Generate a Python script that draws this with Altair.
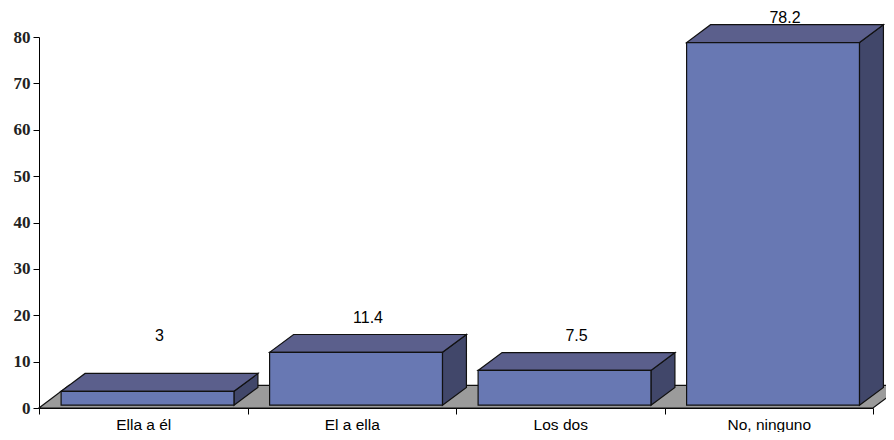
import altair as alt
import pandas as pd

# ---- data ----
categories = ["Ella a él", "El a ella", "Los dos", "No, ninguno"]
values = [3, 11.4, 7.5, 78.2]
label_texts = ["3", "11.4", "7.5", "78.2"]
y_ticks = [0, 10, 20, 30, 40, 50, 60, 70, 80]

# ---- 3-D look (data units) ----
X0, X1 = 0.106, 0.935      # front face within a category slot
BASE = 0.6                 # front face bottom
DX, DY = 0.115, 3.85       # bar depth
FDX, FDY = 0.144, 4.9      # floor depth

front, side, top = [], [], []
for i, (c, v) in enumerate(zip(categories, values)):
    x0, x1 = i + X0, i + X1
    b, t = BASE, BASE + v
    front.append({"bar": c, "x": x0, "x2": x1, "y": b, "y2": t})
    side += [{"bar": c, "x": x1, "y": b, "y2": t},
             {"bar": c, "x": x1 + DX, "y": b + DY, "y2": t + DY}]
    top += [{"bar": c, "x": x0, "y": t, "y2": t},
            {"bar": c, "x": x0 + DX, "y": t, "y2": t + DY},
            {"bar": c, "x": x1, "y": t, "y2": t + DY},
            {"bar": c, "x": x1 + DX, "y": t + DY, "y2": t + DY}]
n = len(categories)
floor = [{"x": 0, "y": 0, "y2": 0},
         {"x": FDX, "y": 0, "y2": FDY},
         {"x": n, "y": 0, "y2": FDY},
         {"x": n + FDX, "y": FDY, "y2": FDY}]
labels = [{"x": i + (X0 + X1) / 2 + DX / 2,
           "y": min(max(v, 7.5) + 8, 84), "t": s}
          for i, (v, s) in enumerate(zip(values, label_texts))]

xs = alt.Scale(domain=[0, n], nice=False, zero=False)
ys = alt.Scale(domain=[0, 80], nice=False, zero=True)
yaxis = alt.Axis(values=y_ticks, title=None, grid=False, domainColor="black",
                 tickColor="black", tickSize=6, labelPadding=3,
                 labelFont="Liberation Serif", labelFontWeight="bold",
                 labelFontSize=17, labelColor="#222222")

def X(f="x"):
    return alt.X(f"{f}:Q", scale=xs, axis=None)

def Y(f="y"):
    return alt.Y(f"{f}:Q", scale=ys, axis=yaxis)

stroke = dict(stroke="#111111", strokeWidth=1.2)

floor_l = alt.Chart(pd.DataFrame(floor)).mark_area(
    color="#9b9b9b", **stroke, strokeJoin="miter").encode(
    x=X(), y=Y(), y2="y2:Q")

side_l = alt.Chart(pd.DataFrame(side)).mark_area(
    color="#41476a", **stroke).encode(
    x=X(), y=Y(), y2="y2:Q", detail="bar:N")

top_l = alt.Chart(pd.DataFrame(top)).mark_area(
    color="#5b5f8c", **stroke).encode(
    x=X(), y=Y(), y2="y2:Q", detail="bar:N")

front_l = alt.Chart(pd.DataFrame(front)).mark_rect(
    color="#6878b3", **stroke).encode(
    x=X(), x2="x2:Q", y=Y(), y2="y2:Q")

text_l = alt.Chart(pd.DataFrame(labels)).mark_text(
    font="Liberation Sans", fontSize=16, color="black", baseline="middle").encode(
    x=X(), y=Y(), text="t:N")

geo = alt.layer(floor_l, side_l, top_l, front_l, text_l)

axis_l = alt.Chart(pd.DataFrame({"c": categories})).mark_rule(opacity=0).encode(
    x=alt.X("c:N", sort=categories,
            scale=alt.Scale(paddingInner=0, paddingOuter=0),
            axis=alt.Axis(title=None, orient="bottom", labelAngle=0,
                          tickBand="extent", tickSize=6, tickColor="black",
                          domainColor="black", labelPadding=3,
                          labelFont="Liberation Sans", labelFontSize=15.5,
                          labelColor="black"))
)

chart = alt.layer(geo, axis_l).resolve_scale(x="independent").properties(
    width=834, height=371,
    autosize=alt.AutoSizeParams(type="none"),
    padding={"left": 31, "top": 29, "right": 13, "bottom": 24},
    background="white",
).configure_view(stroke=None)

chart.save("out.html", embed_options={"renderer": "svg", "actions": False})
